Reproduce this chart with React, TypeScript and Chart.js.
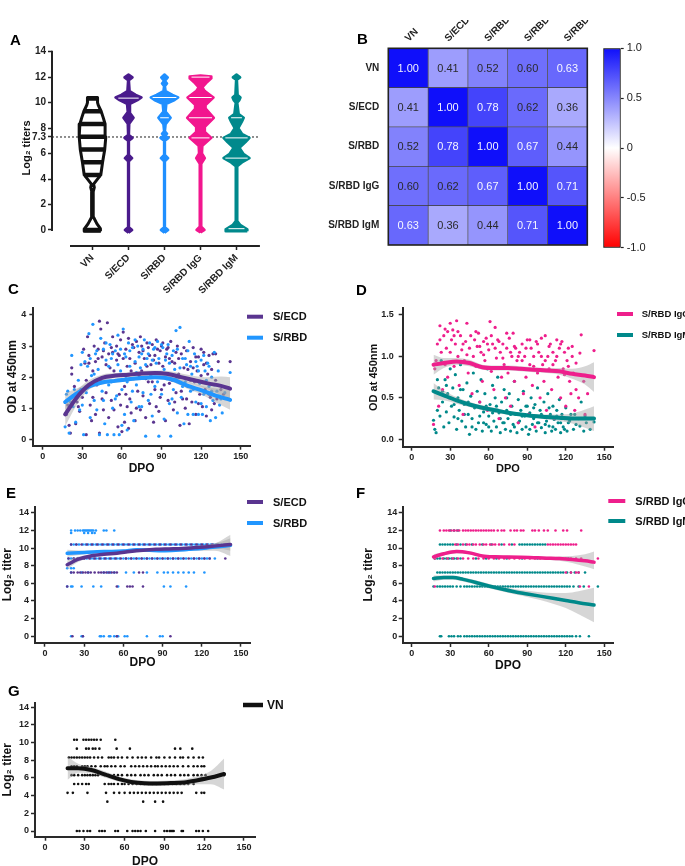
import React, { useEffect, useRef } from 'react';
import { Chart, registerables } from 'chart.js';

Chart.register(...registerables);
const FONT = "'Liberation Sans', Arial, Helvetica, sans-serif";
Chart.defaults.font.family = FONT;
Chart.defaults.color = '#222';

// ---------------- Panel A (violins) ----------------
const aCategories = ['VN', 'S/ECD', 'S/RBD', 'S/RBD IgG', 'S/RBD IgM'];
const aColors = ['#111111', '#4a1b8c', '#1f8fff', '#f2168e', '#00898c'];
const aTicks = [0, 2, 4, 6, 7.3, 8, 10, 12, 14];
const aCutoff = 7.3;
// [log2 titer, half-width in category units]
const aVnProfile = [[-0.1, 0.23], [0.1, 0.22], [0.5, 0.12], [1.0, 0.03], [1.5, 0.02], [3.0, 0.02], [3.35, 0.05], [3.6, 0.03], [4.32, 0.23], [5.32, 0.28], [6.32, 0.34], [7.32, 0.37], [8.32, 0.35], [8.8, 0.3], [9.32, 0.24], [9.8, 0.16], [10.0, 0.14], [10.4, 0.14]];
const aEcdProfile = [[-0.22, 0], [0, 0.1], [0.22, 0.01], [5.4, 0.01], [5.64, 0.1], [5.88, 0.01], [7.0, 0.01], [7.23, 0.11], [7.46, 0.01], [8.35, 0.02], [8.81, 0.14], [9.25, 0.02], [9.9, 0.04], [10.2, 0.25], [10.4, 0.36], [10.6, 0.2], [10.9, 0.03], [11.75, 0.01], [11.98, 0.11], [12.2, 0]];
const aRbdProfile = [[-0.22, 0], [0, 0.1], [0.22, 0.01], [5.4, 0.01], [5.64, 0.1], [5.88, 0.01], [7.0, 0.01], [7.23, 0.11], [7.42, 0.01], [7.55, 0.07], [7.75, 0.01], [8.3, 0.03], [8.81, 0.17], [9.3, 0.03], [9.9, 0.05], [10.2, 0.28], [10.4, 0.38], [10.6, 0.22], [10.9, 0.03], [11.3, 0.01], [11.5, 0.07], [11.7, 0.01], [11.98, 0.09], [12.2, 0]];
const aIggProfile = [[-0.2, 0], [0, 0.11], [0.25, 0.02], [5.2, 0.02], [5.64, 0.12], [6.0, 0.04], [6.6, 0.05], [7.23, 0.3], [7.7, 0.12], [8.1, 0.12], [8.81, 0.37], [9.5, 0.15], [9.8, 0.14], [10.4, 0.36], [10.9, 0.12], [11.2, 0.05], [11.6, 0.18], [11.9, 0.3], [12.05, 0.3], [12.12, 0]];
const aIgmProfile = [[-0.1, 0.3], [0.05, 0.3], [0.4, 0.1], [0.7, 0.02], [5.0, 0.02], [5.3, 0.15], [5.64, 0.36], [5.95, 0.2], [6.45, 0.08], [6.9, 0.25], [7.23, 0.36], [7.55, 0.15], [8.0, 0.05], [8.5, 0.15], [8.81, 0.2], [9.1, 0.06], [10.0, 0.02], [10.2, 0.08], [10.4, 0.11], [10.6, 0.03], [11.8, 0.01], [11.98, 0.1], [12.2, 0]];
const aProfiles = [aVnProfile, aEcdProfile, aRbdProfile, aIggProfile, aIgmProfile];
const aVnBands = [0, 4.32, 5.32, 6.32, 7.32, 8.32, 9.32, 10.32];
const aInnerLines = [[], [10.35], [10.4, 8.81], [12.0, 10.4, 8.81, 7.23], [8.81, 7.23, 5.64, 0.1]];

// ---------------- Panel B (correlation heatmap) ----------------
const bRows = ['VN', 'S/ECD', 'S/RBD', 'S/RBD IgG', 'S/RBD IgM'];
const bCols = ['VN', 'S/ECD', 'S/RBD', 'S/RBD IgG', 'S/RBD IgM'];
const bMatrix = [
  [1.0, 0.41, 0.52, 0.6, 0.63],
  [0.41, 1.0, 0.78, 0.62, 0.36],
  [0.52, 0.78, 1.0, 0.67, 0.44],
  [0.6, 0.62, 0.67, 1.0, 0.71],
  [0.63, 0.36, 0.44, 0.71, 1.0],
];
const cbTicks = [-1, -0.5, 0, 0.5, 1];
const cbTickLabels = ['-1.0', '-0.5', '0', '0.5', '1.0'];

// ---------------- Panels C-G shared ticks ----------------
const dpoTicks = [0, 30, 60, 90, 120, 150];
const cOdTicks = [0, 1, 2, 3, 4];
const dOdTicks = [0, 0.5, 1, 1.5];
const titerTicks = [0, 2, 4, 6, 8, 10, 12, 14];

// ---------------- Panel C (OD, S/ECD vs S/RBD) ----------------
const cEcdPts = [[18,0.8],[19,1.1],[20,0.45],[21,0.2],[22,2.1],[22,2.3],[23,1.4],[24,1.7],[25,0.5],[26,1.2],[27,1.05],[28,0.9],[29,1.6],[30,1.35],[31,2.9],[32,2.45],[33,0.15],[33,1.9],[34,3.3],[35,2.7],[36,1.1],[37,0.6],[38,2.2],[39,3.0],[40,2.5],[40,0.8],[41,1.75],[42,2.9],[43,3.8],[43,0.2],[44,3.55],[45,2.65],[45,1.3],[46,0.95],[47,3.1],[47,2.0],[48,1.5],[49,3.75],[50,2.75],[50,0.7],[51,2.3],[52,1.25],[53,3.3],[53,2.8],[54,0.95],[55,1.9],[56,2.55],[56,3.0],[57,0.4],[58,1.45],[58,2.7],[59,3.2],[60,2.05],[60,0.25],[61,3.45],[62,1.7],[62,0.55],[63,2.9],[64,2.35],[64,1.05],[65,3.25],[66,1.3],[66,2.6],[67,0.85],[68,3.05],[69,1.95],[70,2.45],[70,0.6],[71,3.15],[72,1.55],[73,2.8],[74,0.95],[75,2.2],[75,3.0],[76,1.4],[77,2.6],[78,0.7],[79,3.1],[80,1.85],[80,2.95],[81,1.15],[82,2.4],[83,3.05],[84,0.55],[85,2.7],[85,1.6],[86,3.2],[87,2.15],[88,0.9],[89,2.85],[89,1.35],[90,3.0],[91,2.35],[92,1.75],[93,0.6],[94,2.9],[95,1.25],[96,2.6],[97,3.15],[98,1.9],[99,0.95],[100,2.45],[101,1.5],[102,3.0],[103,2.1],[104,0.45],[105,2.75],[106,1.3],[107,2.3],[108,1.0],[109,2.85],[110,1.7],[111,0.5],[112,2.5],[113,1.2],[114,2.95],[115,1.85],[116,0.8],[117,2.2],[118,2.65],[119,1.45],[120,2.9],[121,1.05],[122,2.4],[123,1.6],[124,0.75],[125,2.1],[126,2.7],[127,1.35],[128,2.25],[129,2.75],[130,1.15],[131,1.9],[133,2.5],[135,1.6],[137,1.45],[142,2.5],
[35,2.45],[38,1.35],[42,2.6],[46,2.85],[48,2.4],[52,2.95],[54,2.2],[57,2.75],[59,1.1],[61,2.6],[63,1.45],[65,0.35],[67,2.2],[69,2.95],[71,1.0],[73,2.05],[74,3.3],[76,2.85],[78,1.95],[79,2.35],[81,2.7],[83,1.85],[84,2.55],[86,1.05],[87,2.9],[88,2.45],[90,1.6],[91,3.1],[93,2.65],[95,2.95],[96,1.8],[98,2.5],[100,1.2],[101,2.8],[103,2.6],[105,1.55],[107,2.95],[109,1.3],[110,2.25],[112,1.9],[114,2.3],[116,2.65],[118,1.15],[120,2.05],[122,2.8],[124,2.45],[126,1.45],[128,0.95],[131,2.75],[132,1.3]];
const cRbdPts = [[17,0.4],[18,1.45],[19,1.55],[20,0.2],[21,1.2],[22,2.7],[23,1.05],[24,1.6],[25,0.55],[26,1.35],[27,1.9],[28,0.95],[29,2.4],[30,2.8],[30,1.1],[31,0.15],[32,2.5],[33,1.5],[34,2.35],[35,3.4],[36,0.7],[37,2.05],[38,3.7],[39,1.25],[40,2.75],[41,0.95],[42,2.25],[43,0.15],[44,3.25],[45,1.55],[46,2.9],[47,0.5],[48,2.55],[49,0.15],[50,1.75],[51,3.05],[52,2.6],[53,1.0],[54,0.15],[55,2.85],[56,1.4],[57,3.35],[58,0.15],[59,2.2],[60,1.6],[61,3.55],[62,0.8],[63,2.65],[64,1.85],[64,0.3],[65,3.1],[66,2.35],[67,1.2],[68,2.95],[69,0.6],[70,2.5],[71,1.75],[72,3.0],[73,1.05],[74,2.3],[75,2.75],[76,1.5],[77,3.2],[78,0.1],[79,2.6],[80,1.25],[81,3.1],[82,2.05],[83,0.75],[84,2.9],[85,1.7],[86,2.45],[87,3.15],[88,0.1],[89,2.15],[90,1.45],[91,2.95],[92,0.65],[93,2.55],[94,1.95],[95,3.05],[96,1.15],[97,0.1],[98,2.7],[99,1.6],[100,2.25],[101,3.5],[102,0.85],[103,2.0],[104,3.6],[105,1.35],[106,2.6],[107,0.5],[108,1.85],[109,2.4],[110,0.8],[111,3.15],[112,1.55],[113,2.1],[114,0.8],[115,2.75],[116,1.2],[117,2.35],[118,0.8],[119,1.8],[120,2.55],[121,0.8],[122,1.45],[123,2.2],[124,1.05],[125,2.45],[126,1.7],[127,0.6],[128,2.0],[129,1.25],[130,2.8],[131,0.7],[132,1.55],[134,1.1],[136,0.85],[138,1.5],[142,2.15],
[36,2.6],[39,2.1],[41,2.85],[44,1.9],[46,1.25],[48,3.1],[50,2.35],[52,1.85],[53,2.75],[55,1.3],[57,2.4],[59,2.9],[60,0.45],[62,2.75],[63,1.95],[66,2.85],[68,1.55],[70,3.2],[71,2.15],[73,2.65],[75,1.05],[76,2.9],[78,2.4],[80,2.75],[82,1.45],[83,2.55],[85,2.95],[87,1.85],[88,2.6],[90,3.05],[92,2.25],[94,2.75],[96,2.45],[98,1.3],[99,2.85],[101,1.95],[102,2.9],[104,2.3],[106,1.7],[108,2.6],[110,2.85],[112,2.35],[114,1.6],[116,2.5],[118,2.2],[120,1.15],[122,2.7],[124,1.9],[126,2.35],[128,1.55],[130,1.75],[133,2.2],[135,1.3]];
const cEcdFit = [[17,0.8],[25,1.3],[35,1.75],[45,1.98],[55,2.05],[65,2.08],[75,2.12],[85,2.13],[95,2.1],[105,2.0],[115,1.9],[125,1.8],[135,1.72],[142,1.63]];
const cEcdBand = [[17,0.42,1.2],[25,1.05,1.55],[35,1.6,1.9],[45,1.88,2.08],[55,1.97,2.13],[65,2.0,2.16],[75,2.04,2.2],[85,2.05,2.21],[95,2.0,2.2],[105,1.88,2.12],[115,1.76,2.04],[125,1.6,2.0],[135,1.42,2.02],[142,1.25,2.0]];
const cRbdFit = [[17,1.2],[25,1.45],[35,1.7],[45,1.83],[55,1.88],[65,1.93],[75,1.97],[85,2.0],[92,1.98],[100,1.9],[110,1.72],[120,1.58],[130,1.42],[142,1.27]];
const cRbdBand = [[17,0.95,1.5],[25,1.3,1.62],[35,1.6,1.8],[45,1.76,1.9],[55,1.82,1.95],[65,1.87,1.99],[75,1.91,2.03],[85,1.94,2.06],[92,1.92,2.05],[100,1.82,1.98],[110,1.62,1.84],[120,1.45,1.72],[130,1.22,1.64],[142,0.95,1.6]];

// ---------------- Panel D (OD, IgG vs IgM) ----------------
const dIggPts = [[17,0.18],[18,0.85],[19,0.95],[20,1.15],[21,0.4],[22,1.37],[23,1.05],[24,0.6],[25,1.25],[26,0.9],[27,1.1],[28,1.3],[28,0.75],[29,0.5],[30,1.4],[31,1.2],[32,1.32],[33,0.88],[34,1.15],[35,1.43],[36,1.0],[37,0.65],[38,1.25],[39,1.08],[40,0.3],[41,0.95],[42,1.18],[43,1.4],[44,0.8],[45,1.1],[46,1.25],[47,0.55],[48,1.0],[49,1.2],[50,0.88],[51,1.12],[52,1.28],[53,0.45],[54,1.05],[55,0.7],[56,1.18],[57,0.95],[58,1.22],[59,0.35],[60,1.08],[61,1.42],[62,0.82],[63,1.15],[64,0.6],[65,1.35],[66,0.98],[67,1.2],[68,0.25],[69,1.05],[70,0.75],[71,1.15],[72,0.9],[73,0.5],[74,1.1],[75,0.8],[76,1.22],[77,0.4],[78,1.0],[79,1.28],[80,0.7],[81,1.1],[82,0.95],[83,0.2],[84,1.05],[85,0.85],[86,1.15],[87,0.55],[88,1.0],[89,0.75],[90,1.2],[91,0.3],[92,0.9],[93,1.1],[94,0.65],[95,1.0],[96,0.15],[97,1.18],[98,0.8],[99,1.05],[100,0.5],[101,1.22],[102,0.9],[103,0.7],[104,1.25],[105,0.35],[106,1.0],[107,0.85],[108,1.15],[109,0.6],[110,1.05],[111,0.25],[112,0.95],[113,1.2],[114,0.75],[115,1.1],[116,0.5],[117,1.18],[118,0.85],[119,1.05],[120,0.4],[121,0.95],[122,1.1],[123,0.7],[124,0.55],[125,1.0],[126,0.8],[127,0.35],[128,0.6],[130,0.5],[132,1.26],[135,0.3],[142,1.07],
[22,1.2],[26,1.33],[30,1.05],[33,1.25],[36,1.3],[40,1.15],[43,1.02],[46,0.92],[50,1.3],[53,1.12],[56,1.02],[59,1.15],[62,1.25],[65,1.1],[68,1.18],[71,0.98],[74,1.28],[77,1.05],[80,1.12],[83,1.0],[86,0.95],[89,1.1],[92,1.2],[95,0.88],[98,1.15],[101,1.0],[104,0.95],[107,1.12],[110,0.9],[113,1.0],[116,1.15],[119,0.78],[122,0.88],[125,1.12],[128,0.92],[131,1.04],[134,0.7],[137,0.55]];
const dIgmPts = [[17,0.23],[18,0.12],[19,0.08],[20,0.35],[21,0.62],[22,0.28],[23,0.95],[24,0.45],[25,0.15],[26,0.72],[27,0.33],[28,0.55],[29,0.2],[30,0.85],[31,0.4],[32,0.62],[33,0.27],[34,0.78],[35,0.12],[36,0.5],[37,0.35],[38,0.9],[39,0.22],[40,0.6],[41,0.42],[42,0.15],[43,0.68],[44,0.3],[45,0.06],[46,0.52],[47,0.25],[48,0.8],[49,0.38],[50,0.12],[51,0.58],[52,0.2],[53,0.45],[54,0.72],[55,0.1],[56,0.33],[57,0.55],[58,0.18],[59,0.85],[60,0.28],[61,0.42],[62,0.1],[63,0.65],[64,0.22],[65,0.5],[66,0.15],[67,0.75],[68,0.32],[69,0.08],[70,0.45],[71,0.2],[72,0.6],[73,0.12],[74,0.35],[75,0.25],[76,0.55],[77,0.1],[78,0.4],[79,0.18],[80,0.7],[81,0.3],[82,0.08],[83,0.48],[84,0.22],[85,0.35],[86,0.12],[87,0.58],[88,0.28],[89,0.15],[90,0.4],[91,0.06],[92,0.32],[93,0.5],[94,0.18],[95,0.25],[96,0.42],[97,0.1],[98,0.62],[99,0.2],[100,0.35],[101,0.14],[102,0.28],[103,0.45],[104,0.08],[105,0.22],[106,0.55],[107,0.16],[108,0.3],[109,0.1],[110,0.4],[111,0.24],[112,0.12],[113,0.35],[114,0.2],[115,0.48],[116,0.08],[117,0.3],[118,0.15],[119,0.25],[120,0.38],[121,0.1],[122,0.2],[124,0.3],[126,0.12],[128,0.18],[130,0.25],[132,0.45],[134,0.1],[136,0.2],[142,0.21],
[20,0.72],[24,0.58],[27,0.65],[30,0.5],[33,0.42],[36,0.25],[38,0.6],[41,0.3],[44,0.45],[47,0.15],[50,0.4],[53,0.28],[56,0.2],[58,0.4],[60,0.15],[63,0.32],[66,0.4],[69,0.25],[72,0.2],[74,0.5],[77,0.3],[80,0.15],[83,0.2],[86,0.28],[89,0.4],[92,0.12],[95,0.38],[98,0.2],[101,0.3],[104,0.18],[107,0.38],[110,0.15],[113,0.28],[116,0.2],[119,0.12],[123,0.22],[127,0.3],[131,0.16],[135,0.28],[139,0.12]];
const dIggFit = [[17,0.9],[25,0.92],[35,0.94],[45,0.92],[55,0.87],[65,0.86],[75,0.86],[85,0.85],[95,0.84],[105,0.83],[115,0.82],[125,0.79],[135,0.77],[142,0.75]];
const dIggBand = [[17,0.78,1.02],[25,0.86,0.98],[35,0.9,0.98],[45,0.88,0.96],[55,0.84,0.9],[65,0.83,0.89],[75,0.83,0.89],[85,0.82,0.88],[95,0.81,0.87],[105,0.8,0.86],[115,0.78,0.86],[125,0.73,0.85],[135,0.66,0.88],[142,0.57,0.93]];
const dIgmFit = [[17,0.58],[25,0.53],[35,0.47],[45,0.42],[55,0.38],[65,0.35],[75,0.32],[85,0.3],[95,0.28],[105,0.27],[115,0.26],[125,0.25],[135,0.25],[142,0.25]];
const dIgmBand = [[17,0.48,0.68],[25,0.47,0.59],[35,0.43,0.51],[45,0.39,0.45],[55,0.35,0.41],[65,0.32,0.38],[75,0.3,0.34],[85,0.28,0.32],[95,0.26,0.3],[105,0.24,0.3],[115,0.22,0.3],[125,0.19,0.31],[135,0.14,0.36],[142,0.1,0.4]];

// ---------------- Panel E (log2 titer, S/ECD vs S/RBD) ----------------
const eEcdLevels = [
  [10.4, [20,24,28,32,36,40,44,48,52,56,60,64,68,72,76,80,84,88,92,96,100,104,108,112,116,120,124,128,132,138]],
  [8.81, [18,22,25,30,34,38,42,46,50,54,58,62,66,70,74,78,82,86,90,94,98,102,106,110,114,118,122,126,138]],
  [7.23, [20,22,25,27,29,31,33,35,38,41,43,45,47,49,51,53,55,72,75]],
  [5.64, [17,55,63,65,67,75]],
  [0, [21,29,55,96]],
];
const eRbdLevels = [
  [11.98, [20,23,25,27,29,30,31,32,33,34,35,36,37,39,45,47,53]],
  [11.7, [20,30,33,36,38]],
  [10.4, [20,22,24,26,29,31,33,35,37,39,41,43,45,47,49,51,53,55,57,59,61,63,65,67,69,71,73,75,77,79,81,83,85,87,89,91,93,95,97,99,101,103,105,107,109,111,113,115,117,119,121,123,125,127,129,131,133,135,137,139,141]],
  [8.81, [18,20,22,25,28,30,32,35,37,39,41,43,45,47,49,51,53,55,57,60,62,64,66,68,70,72,74,76,78,80,82,84,86,88,90,92,94,96,98,100,102,104,106,108,112,114,116,118,120,122,124,126,130]],
  [7.7, [17,20,22]],
  [7.23, [20,28,33,45,48,50,53,62,68,78,86,91,94,98,102,106,110,114,122]],
  [5.64, [17,20,21,28,37,43,56,91,96,108]],
  [0, [20,28,29,42,43,45,49,50,53,55,56,61,63,78,88,90]],
];
const eEcdFit = [[17,8.1],[25,8.7],[35,9.1],[45,9.3],[55,9.4],[65,9.6],[75,9.75],[85,9.85],[95,9.9],[105,9.95],[115,10.05],[125,10.15],[135,10.3],[142,10.4]];
const eEcdBand = [[17,7.6,8.6],[25,8.4,9.0],[35,8.9,9.3],[45,9.15,9.45],[55,9.25,9.55],[65,9.45,9.75],[75,9.6,9.9],[85,9.7,10.0],[95,9.75,10.05],[105,9.8,10.1],[115,9.85,10.25],[125,9.9,10.4],[135,9.9,10.7],[142,9.7,11.1]];
const eRbdFit = [[17,9.4],[30,9.5],[45,9.6],[60,9.65],[70,9.8],[80,9.75],[90,9.7],[100,9.75],[110,9.85],[120,9.95],[130,10.1],[142,10.3]];
const eRbdBand = [[17,9.0,9.8],[30,9.3,9.7],[45,9.45,9.75],[60,9.5,9.8],[70,9.65,9.95],[80,9.6,9.9],[90,9.55,9.85],[100,9.6,9.9],[110,9.65,10.05],[120,9.7,10.2],[130,9.7,10.5],[142,9.1,11.5]];

// ---------------- Panel F (log2 titer, IgG vs IgM) ----------------
const fIggLevels = [
  [11.98, [22,25,27,29,31,33,35,37,40,42,44,46,48,50,52,54,56,58,60,62,64,67,70,72,77,80,82,85,87,94,96,99,103,106,112,118,121,132]],
  [10.4, [34,36,40,43,45,48,50,53,56,58,61,63,65,68,72,76,80,106,108,110,112,114,116,118,120,122,124,126,128]],
  [8.81, [18,24,28,32,36,40,44,48,52,56,60,64,68,72,76,80,84,88,92,96,100,104,108,112,116,120,124,128,132,145]],
  [7.23, [120,124,128,130]],
  [5.64, [18,131,138]],
];
const fIgmLevels = [
  [11.98, [30,33,36]],
  [10.4, [22,24,26,28,30,32,35,38,42,47,55,62,70,78,84,86,88,90,92,94,96,98,100,102,104]],
  [8.81, [18,20,22,25,27,29,31,33,35,38,50,58,66,74,86,98,110,122]],
  [7.23, [20,22,24,26,28,30,32,34,36,38,40,42,44,46,48,50,52,54,56,58,60,62,64,66,68,70,72,74,76,78,80,82,84,86,88,90,92,94,96,98,100,102,104,106,108,110,112,114,116,118,121,124,127,130,135]],
  [5.64, [17,20,22,24,26,28,30,32,35,38,41,43,45,47,49,51,53,55,57,59,61,63,65,67,69,71,73,75,77,79,81,83,85,87,89,91,93,95,97,99,101,103,105,107,109,111,113,115,117,119,121,123,126,130,134,145]],
  [0, [22,23,29,31,33,36,38,41,43,45,47,49,51,53,55,57,59,61,63,65,67,69,71,73,75,77,79,81,83,85,87,89,91,93,95,97,99,101,103,105,107,109,111,113,115,117,119,121,123,125,128,131,138]],
];
const fIggFit = [[17,9.0],[25,9.35],[35,9.6],[45,9.45],[55,9.1],[65,9.0],[75,8.98],[85,8.95],[95,8.9],[105,8.85],[115,8.8],[125,8.7],[135,8.55],[142,8.4]];
const fIggBand = [[17,8.7,9.3],[25,9.15,9.55],[35,9.4,9.8],[45,9.28,9.62],[55,8.95,9.25],[65,8.86,9.14],[75,8.85,9.11],[85,8.82,9.08],[95,8.76,9.04],[105,8.68,9.02],[115,8.55,9.05],[125,8.3,9.1],[135,7.9,9.3],[142,7.6,9.6]];
const fIgmFit = [[17,6.55],[25,6.65],[32,6.65],[40,6.45],[50,6.1],[60,5.7],[70,5.35],[80,5.05],[90,4.8],[100,4.55],[110,4.3],[120,4.05],[130,3.8],[142,3.55]];
const fIgmBand = [[17,6.2,6.9],[25,6.4,6.9],[32,6.4,6.9],[40,6.2,6.7],[50,5.85,6.35],[60,5.45,5.95],[70,5.1,5.6],[80,4.75,5.35],[90,4.45,5.15],[100,4.1,5.0],[110,3.7,4.9],[120,3.2,4.9],[130,2.5,5.1],[142,1.6,5.5]];

// ---------------- Panel G (log2 titer, VN) ----------------
const gVnLevels = [
  [10.32, [22,24,29,31,33,35,37,39,42,53]],
  [9.32, [24,31,33,36,38,41,54,64,98,102,111]],
  [8.32, [18,20,22,24,26,28,30,32,34,37,40,43,48,50,52,55,58,62,66,70,73,76,80,84,86,90,94,98,102,104,108,112,116,119]],
  [7.32, [20,22,24,28,30,32,35,38,42,45,47,50,53,57,60,65,68,71,74,77,80,83,85,88,91,94,97,100,104,108,112,115,118,120]],
  [6.32, [20,22,25,28,30,32,34,36,38,40,45,48,52,55,58,62,65,68,72,75,78,82,85,88,92,95,98,102,105,108,112,115,118,121,135]],
  [5.32, [22,25,28,31,33,45,48,50,52,55,58,60,63,66,69,72,75,78,81,84,87,90,93,96,99,102,105,108,112]],
  [4.32, [17,21,32,46,52,56,60,64,67,70,73,76,79,82,85,88,91,94,97,100,103,114,118,120]],
  [3.32, [47,74,83,89]],
  [0, [24,26,29,32,34,41,43,45,53,55,62,66,68,70,72,76,83,90,92,94,95,96,97,103,104,114,116,119,123]],
];
const gVnFit = [[17,7.1],[25,7.1],[35,6.9],[45,6.4],[55,5.9],[65,5.55],[75,5.4],[85,5.38],[95,5.42],[105,5.5],[115,5.75],[125,6.05],[135,6.45]];
const gVnBand = [[17,5.8,8.4],[25,6.6,7.6],[35,6.55,7.25],[45,6.05,6.75],[55,5.6,6.2],[65,5.25,5.85],[75,5.12,5.68],[85,5.1,5.66],[95,5.12,5.72],[105,5.15,5.85],[115,5.3,6.2],[125,5.3,6.8],[135,4.7,8.2]];

// ---------------- colours ----------------
const COL_ECD = '#5a3590';
const COL_RBD = '#2196ff';
const COL_IGG = '#ee1f8c';
const COL_IGM = '#00898a';
const COL_VN = '#111111';
const BAND = 'rgba(165,165,165,0.45)';

// ---------------- helpers ----------------
function corrColor(v: number) {
  if (v >= 0) {
    const c = Math.round(255 - 240 * v);
    return `rgb(${c},${c},${Math.round(255 - 5 * v)})`;
  }
  const c = Math.round(255 + 255 * v);
  return `rgb(255,${c},${c})`;
}
function widthAt(profile: number[][], y: number) {
  for (let i = 0; i < profile.length - 1; i++) {
    const [y0, w0] = profile[i];
    const [y1, w1] = profile[i + 1];
    if (y >= y0 && y <= y1) return w0 + ((w1 - w0) * (y - y0)) / (y1 - y0);
  }
  return 0;
}
const toPts = (arr: number[][]) => arr.map(([x, y]) => ({ x, y }));
const lvlPts = (levels: any[]) => levels.flatMap(([y, xs]: any) => xs.map((x: number) => ({ x, y })));
const pointsDs = (data: any[], color: string, r: number) => ({
  data, showLine: false, pointRadius: r, pointHoverRadius: r, pointBackgroundColor: color, pointBorderWidth: 0, backgroundColor: color, borderColor: color, order: 3,
});
function fitDs(fit: number[][], band: number[][], color: string, lw: number) {
  return [
    { data: band.map(([x, , hi]) => ({ x, y: hi })), showLine: true, pointRadius: 0, borderWidth: 0, borderColor: 'rgba(0,0,0,0)', fill: false, tension: 0.4, cubicInterpolationMode: 'monotone', order: 2 },
    { data: band.map(([x, lo]) => ({ x, y: lo })), showLine: true, pointRadius: 0, borderWidth: 0, borderColor: 'rgba(0,0,0,0)', backgroundColor: BAND, fill: '-1', tension: 0.4, cubicInterpolationMode: 'monotone', order: 2 },
    { data: toPts(fit), showLine: true, pointRadius: 0, borderColor: color, borderWidth: lw, fill: false, tension: 0.4, cubicInterpolationMode: 'monotone', borderCapStyle: 'round', order: 1 },
  ];
}
function legendPlugin(cfg: any) {
  return {
    id: 'lineLegend',
    afterDraw(chart: any) {
      const { ctx, chartArea: a } = chart;
      ctx.save();
      cfg.items.forEach((it: any, i: number) => {
        const y = a.top + cfg.dy + i * cfg.gap;
        ctx.strokeStyle = it.color;
        ctx.lineWidth = cfg.lw;
        ctx.lineCap = 'butt';
        ctx.beginPath();
        ctx.moveTo(a.right + cfg.l0, y);
        ctx.lineTo(a.right + cfg.l1, y);
        ctx.stroke();
        ctx.fillStyle = '#111';
        ctx.font = `bold ${cfg.size}px ${FONT}`;
        ctx.textAlign = 'left';
        ctx.textBaseline = 'middle';
        ctx.fillText(it.label, a.right + cfg.tx, y + 0.5);
      });
      ctx.restore();
    },
  };
}

const axisBorder = { display: true, width: 2, color: '#2a2a2a' };
const tickGrid = { drawOnChartArea: false, drawTicks: true, tickLength: 4, tickWidth: 1.5, tickColor: '#2a2a2a' };

function scatterPanel(cv: HTMLCanvasElement, cfg: any) {
  const tickFont = { size: cfg.tickSize || 9, weight: 'bold' };
  const titleFont = { size: cfg.titleSize || 12, weight: 'bold' };
  return new Chart(cv, {
    type: 'scatter',
    data: { datasets: cfg.datasets },
    options: {
      animation: false,
      responsive: false,
      devicePixelRatio: 1,
      events: [],
      layout: { padding: cfg.pad },
      plugins: { legend: { display: false }, tooltip: { enabled: false } },
      scales: {
        x: {
          type: 'linear', min: cfg.x[0], max: cfg.x[1],
          afterBuildTicks: (s: any) => { s.ticks = dpoTicks.map((v) => ({ value: v })); },
          afterFit: (s: any) => { s.height = cfg.xh; },
          border: axisBorder, grid: tickGrid,
          ticks: { autoSkip: false, maxRotation: 0, padding: 1.5, font: tickFont, color: '#222' },
          title: { display: true, text: 'DPO', color: '#111', font: titleFont, padding: { top: 0, bottom: cfg.xtp } },
        },
        y: {
          type: 'linear', min: cfg.y[0], max: cfg.y[1],
          afterBuildTicks: (s: any) => { s.ticks = cfg.yTicks.map((v: number) => ({ value: v })); },
          afterFit: (s: any) => { s.width = cfg.yw; },
          border: axisBorder, grid: tickGrid,
          ticks: { autoSkip: false, padding: cfg.ytp, font: tickFont, color: '#222', callback: cfg.yFmt },
          title: { display: true, text: cfg.yTitle, color: '#111', font: titleFont, padding: { top: cfg.ytt, bottom: 0 } },
        },
      },
    } as any,
    plugins: [legendPlugin(cfg.legend)],
  });
}

function violinDatasets() {
  const ds: any[] = [];
  aProfiles.forEach((prof, i) => {
    const right = prof.map(([y, w]) => ({ x: i + w, y }));
    const left = prof.slice().reverse().map(([y, w]) => ({ x: i - w, y }));
    const poly = [...right, ...left, right[0]];
    const isVn = i === 0;
    ds.push({
      data: poly, showLine: true, pointRadius: 0, borderColor: aColors[i], borderWidth: isVn ? 3 : 2.6,
      backgroundColor: isVn ? '#ffffff' : aColors[i], fill: 'shape', tension: 0, borderJoinStyle: 'round', order: 2,
    });
    const lvls = isVn ? aVnBands : aInnerLines[i];
    const seg: any[] = [];
    lvls.forEach((l) => {
      const w = widthAt(prof, l) - (isVn ? 0 : 0.05);
      if (w <= 0.03) return;
      seg.push({ x: i - w, y: l }, { x: i + w, y: l }, { x: i, y: null });
    });
    if (seg.length) {
      ds.push({ data: seg, showLine: true, spanGaps: false, pointRadius: 0, borderColor: isVn ? '#111' : '#ffffff', borderWidth: isVn ? 4.5 : 1, fill: false, order: 1 });
    }
  });
  ds.push({ data: [{ x: -1.125, y: aCutoff }, { x: 4.65, y: aCutoff }], showLine: true, pointRadius: 0, borderColor: '#444', borderWidth: 1.2, borderDash: [2, 2], fill: false, order: 4 });
  return ds;
}

export default function App() {
  const refA = useRef<HTMLCanvasElement>(null);
  const refB = useRef<HTMLCanvasElement>(null);
  const refCb = useRef<HTMLCanvasElement>(null);
  const refC = useRef<HTMLCanvasElement>(null);
  const refD = useRef<HTMLCanvasElement>(null);
  const refE = useRef<HTMLCanvasElement>(null);
  const refF = useRef<HTMLCanvasElement>(null);
  const refG = useRef<HTMLCanvasElement>(null);

  useEffect(() => {
    const charts: Chart[] = [];

    // ---- A ----
    const aAxes = {
      id: 'aAxes',
      afterDraw(chart: any) {
        const { ctx, chartArea: a, scales } = chart;
        const x = scales.x, y = scales.y;
        ctx.save();
        ctx.strokeStyle = '#222';
        ctx.lineWidth = 2;
        ctx.beginPath();
        ctx.moveTo(a.left, y.getPixelForValue(0) + 1);
        ctx.lineTo(a.left, y.getPixelForValue(14) - 1);
        ctx.moveTo(x.getPixelForValue(-0.625), a.bottom);
        ctx.lineTo(x.getPixelForValue(4.65), a.bottom);
        ctx.stroke();
        ctx.restore();
      },
    };
    charts.push(new Chart(refA.current!, {
      type: 'scatter',
      data: { datasets: violinDatasets() },
      options: {
        animation: false, responsive: false, devicePixelRatio: 1, events: [],
        layout: { padding: { left: 0, top: 10, right: 13, bottom: 0 } },
        plugins: { legend: { display: false }, tooltip: { enabled: false } },
        scales: {
          x: {
            type: 'linear', min: -1.125, max: 4.708,
            afterBuildTicks: (s: any) => { s.ticks = aCategories.map((_, i) => ({ value: i })); },
            afterFit: (s: any) => { s.height = 56; },
            border: { display: false },
            grid: { drawOnChartArea: false, tickLength: 4, tickWidth: 1.5, tickColor: '#222' },
            ticks: { autoSkip: false, minRotation: 45, maxRotation: 45, padding: 2, font: { size: 10, weight: 'bold' }, color: '#222', callback: (v: any) => aCategories[v] },
          },
          y: {
            type: 'linear', min: -1.26, max: 14.13,
            afterBuildTicks: (s: any) => { s.ticks = aTicks.map((v) => ({ value: v })); },
            afterFit: (s: any) => { s.width = 36; },
            border: { display: false },
            grid: { drawOnChartArea: false, tickLength: 4, tickWidth: 1.5, tickColor: '#222' },
            ticks: { autoSkip: false, padding: 2, font: { size: 10, weight: 'bold' }, color: '#222', callback: (v: any) => String(v) },
            title: { display: true, text: 'Log₂ titers', color: '#111', font: { size: 11, weight: 'bold' }, padding: { top: 4, bottom: 0 } },
          },
        },
      } as any,
      plugins: [aAxes],
    }));

    // ---- B heatmap ----
    const bLabels = {
      id: 'bLabels',
      afterDatasetsDraw(chart: any) {
        const { ctx, chartArea: a } = chart;
        ctx.save();
        ctx.font = `11px ${FONT}`;
        ctx.textAlign = 'center';
        ctx.textBaseline = 'middle';
        chart.data.datasets.forEach((_: any, j: number) => {
          chart.getDatasetMeta(j).data.forEach((el: any, i: number) => {
            const v = bMatrix[i][j];
            const p = el.getCenterPoint();
            ctx.fillStyle = v > 0.625 ? 'rgba(255,255,255,0.95)' : '#2a2a2a';
            ctx.fillText(v.toFixed(2), p.x, p.y + 0.5);
          });
        });
        ctx.strokeStyle = '#222';
        ctx.lineWidth = 1.6;
        ctx.strokeRect(a.left, a.top, a.right - a.left, a.bottom - a.top);
        ctx.restore();
      },
    };
    charts.push(new Chart(refB.current!, {
      type: 'bar',
      data: {
        labels: bRows,
        datasets: bCols.map((c, j) => ({
          label: c,
          data: bRows.map(() => 1),
          backgroundColor: bRows.map((_, i) => corrColor(bMatrix[i][j])),
          borderColor: 'rgba(40,40,40,0.75)', borderWidth: 0.7, borderSkipped: false,
          barPercentage: 1, categoryPercentage: 1,
        })),
      },
      options: {
        indexAxis: 'y', animation: false, responsive: false, devicePixelRatio: 1, events: [],
        layout: { padding: { left: 0, top: 0, right: 32.7, bottom: 12.3 } },
        plugins: { legend: { display: false }, tooltip: { enabled: false } },
        scales: {
          x: {
            type: 'linear', position: 'top', stacked: true, min: 0, max: 5,
            afterBuildTicks: (s: any) => { s.ticks = bCols.map((_, j) => ({ value: j + 0.5 })); },
            afterFit: (s: any) => { s.height = 58.3; },
            grid: { display: false, drawTicks: false }, border: { display: false },
            ticks: { autoSkip: false, minRotation: 45, maxRotation: 45, padding: 4, labelOffset: 7, font: { size: 10, weight: 'bold' }, color: '#222', callback: (v: any) => bCols[Math.floor(v)] },
          },
          y: {
            type: 'category', stacked: true,
            afterFit: (s: any) => { s.width = 70.3; },
            grid: { display: false, drawTicks: false }, border: { display: false },
            ticks: { padding: 9, font: { size: 10, weight: 'bold' }, color: '#222' },
          },
        },
      } as any,
      plugins: [bLabels],
    }));

    // ---- B colour bar ----
    charts.push(new Chart(refCb.current!, {
      type: 'bar',
      data: {
        labels: [''],
        datasets: [{
          data: [[cbTicks[0], cbTicks[cbTicks.length - 1]]],
          backgroundColor: (ctx: any) => {
            const chart = ctx.chart;
            const area = chart.chartArea;
            if (!area) return '#fff';
            const y = chart.scales.y;
            const g = chart.ctx.createLinearGradient(0, y.getPixelForValue(-1), 0, y.getPixelForValue(1));
            g.addColorStop(0, corrColor(-1));
            g.addColorStop(0.5, corrColor(0));
            g.addColorStop(1, corrColor(1));
            return g;
          },
          borderColor: '#222', borderWidth: 1.2, borderSkipped: false,
          barPercentage: 1, categoryPercentage: 1,
        }],
      },
      options: {
        animation: false, responsive: false, devicePixelRatio: 1, events: [],
        layout: { padding: { left: 7.3, top: 10.3, right: 0, bottom: 10.3 } },
        plugins: { legend: { display: false }, tooltip: { enabled: false } },
        scales: {
          x: { display: false },
          y: {
            position: 'right', min: -1, max: 1,
            afterBuildTicks: (s: any) => { s.ticks = cbTicks.map((v) => ({ value: v })); },
            afterFit: (s: any) => { s.width = 64.3; },
            border: { display: false },
            grid: { drawOnChartArea: false, tickLength: 3, tickWidth: 1.2, tickColor: '#222' },
            ticks: { padding: 3, font: { size: 11 }, color: '#222', callback: (v: any) => cbTickLabels[cbTicks.indexOf(v)] },
          },
        },
      } as any,
    }));

    // ---- C ----
    charts.push(scatterPanel(refC.current!, {
      datasets: [...fitDs(cEcdFit, cEcdBand, COL_ECD, 4), ...fitDs(cRbdFit, cRbdBand, COL_RBD, 4), pointsDs(toPts(cRbdPts), COL_RBD, 1.6), pointsDs(toPts(cEcdPts), COL_ECD, 1.6)],
      pad: { left: 0, top: 13, right: 66, bottom: 0 },
      x: [-7.12, 157.05], y: [-0.206, 4.225], yTicks: cOdTicks,
      yFmt: (v: any) => String(v), yTitle: 'OD at 450nm',
      yw: 32.3, xh: 35.3, ytp: 3, ytt: 4, xtp: 5,
      legend: { items: [{ label: 'S/ECD', color: COL_ECD }, { label: 'S/RBD', color: COL_RBD }], l0: -3, l1: 13, tx: 23, dy: 8.7, gap: 21, lw: 4, size: 11 },
    }));

    // ---- D ----
    charts.push(scatterPanel(refD.current!, {
      datasets: [...fitDs(dIggFit, dIggBand, COL_IGG, 4), ...fitDs(dIgmFit, dIgmBand, COL_IGM, 4), pointsDs(toPts(dIggPts), COL_IGG, 1.6), pointsDs(toPts(dIgmPts), COL_IGM, 1.6)],
      pad: { left: 0, top: 13, right: 72, bottom: 0 },
      x: [-7.01, 156.78], y: [-0.089, 1.584], yTicks: dOdTicks,
      yFmt: (v: any) => Number(v).toFixed(1), yTitle: 'OD at 450nm',
      yw: 40.7, xh: 34.3, ytp: 5, ytt: 5, xtp: 5, titleSize: 11,
      legend: { items: [{ label: 'S/RBD IgG', color: COL_IGG }, { label: 'S/RBD IgM', color: COL_IGM }], l0: 4, l1: 20, tx: 28.7, dy: 6, gap: 21, lw: 4, size: 9.5 },
    }));

    // ---- E ----
    charts.push(scatterPanel(refE.current!, {
      datasets: [...fitDs(eEcdFit, eEcdBand, COL_ECD, 3.5), ...fitDs(eRbdFit, eRbdBand, COL_RBD, 3.5), pointsDs(lvlPts(eEcdLevels), COL_ECD, 1.3), pointsDs(lvlPts(eRbdLevels), COL_RBD, 1.3)],
      pad: { left: 0, top: 12.7, right: 66, bottom: 0 },
      x: [-7.65, 156.9], y: [-0.725, 14.68], yTicks: titerTicks,
      yFmt: (v: any) => String(v), yTitle: 'Log₂ titer',
      yw: 35, xh: 31.3, ytp: 2, ytt: 0, xtp: 4,
      legend: { items: [{ label: 'S/ECD', color: COL_ECD }, { label: 'S/RBD', color: COL_RBD }], l0: -3, l1: 13, tx: 23, dy: -4.7, gap: 21, lw: 4, size: 11 },
    }));

    // ---- F ----
    charts.push(scatterPanel(refF.current!, {
      datasets: [...fitDs(fIggFit, fIggBand, COL_IGG, 3.5), ...fitDs(fIgmFit, fIgmBand, COL_IGM, 3.5), pointsDs(lvlPts(fIggLevels), COL_IGG, 1.3), pointsDs(lvlPts(fIgmLevels), COL_IGM, 1.3)],
      pad: { left: 0, top: 12.7, right: 71.7, bottom: 0 },
      x: [-7.0, 157.0], y: [-0.76, 14.68], yTicks: titerTicks,
      yFmt: (v: any) => String(v), yTitle: 'Log₂ titer',
      yw: 41.7, xh: 34, ytp: 1.5, ytt: 0, xtp: 4,
      legend: { items: [{ label: 'S/RBD IgG', color: COL_IGG }, { label: 'S/RBD IgM', color: COL_IGM }], l0: -5, l1: 12, tx: 22, dy: -5.7, gap: 20, lw: 4, size: 11 },
    }));

    // ---- G ----
    charts.push(scatterPanel(refG.current!, {
      datasets: [...fitDs(gVnFit, gVnBand, COL_VN, 4), pointsDs(lvlPts(gVnLevels), COL_VN, 1.3)],
      pad: { left: 0, top: 10, right: 61, bottom: 0 },
      x: [-7.54, 158.3], y: [-0.645, 14.487], yTicks: titerTicks,
      yFmt: (v: any) => String(v), yTitle: 'Log₂ titer',
      yw: 35, xh: 36.3, ytp: 2, ytt: 0, xtp: 4,
      legend: { items: [{ label: 'VN', color: COL_VN }], l0: -12, l1: 8, tx: 12, dy: 2, gap: 20, lw: 4.5, size: 12 },
    }));

    return () => charts.forEach((c) => c.destroy());
  }, []);

  const letter = (t: string, left: number, top: number) => (
    <div style={{ position: 'absolute', left, top, font: `bold 15px ${FONT}`, color: '#000', lineHeight: '18px' }}>{t}</div>
  );
  const abs = (left: number, top: number): React.CSSProperties => ({ position: 'absolute', left, top });

  return (
    <div style={{ position: 'absolute', left: 0, top: 0, width: 685, height: 866, overflow: 'hidden', background: '#fff' }}>
      <canvas ref={refA} width={259} height={262} style={abs(16, 40)} />
      <div style={{ position: 'absolute', left: 318, top: 20, width: 302, height: 250, overflow: 'hidden' }}>
        <canvas ref={refB} width={302} height={270} style={abs(0, -30)} />
      </div>
      <canvas ref={refCb} width={89} height={220} style={abs(596, 38)} />
      <canvas ref={refC} width={315} height={186} style={abs(1, 295)} />
      <canvas ref={refD} width={323} height={186} style={abs(362, 295)} />
      <canvas ref={refE} width={316} height={180} style={abs(0, 494)} />
      <canvas ref={refF} width={324} height={183} style={abs(361, 494)} />
      <canvas ref={refG} width={316} height={180} style={abs(0, 693)} />
      {letter('A', 10, 31)}
      {letter('B', 357, 30)}
      {letter('C', 8, 280)}
      {letter('D', 356, 281)}
      {letter('E', 6, 484)}
      {letter('F', 356, 484)}
      {letter('G', 8, 682)}
    </div>
  );
}
